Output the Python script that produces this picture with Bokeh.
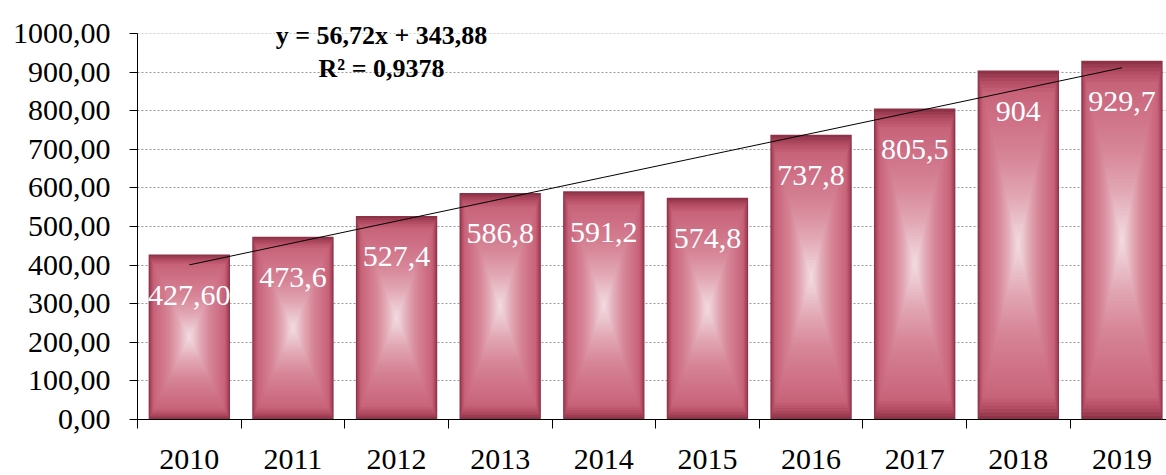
import numpy as np
from bokeh.plotting import figure
from bokeh.models import (ColumnDataSource, FixedTicker, CustomJSTickFormatter,
                          Range1d, Label, Span)
from bokeh.core.properties import value
from bokeh.embed import file_html
from bokeh.resources import INLINE

# ---- data ----
years = ["2010", "2011", "2012", "2013", "2014", "2015", "2016", "2017", "2018", "2019"]
values = [427.6, 473.6, 527.4, 586.8, 591.2, 574.8, 737.8, 805.5, 904.0, 929.7]
bar_labels = ["427,60", "473,6", "527,4", "586,8", "591,2", "574,8", "737,8", "805,5", "904", "929,7"]
y_ticks = [0, 100, 200, 300, 400, 500, 600, 700, 800, 900, 1000]
eq_line1 = "y = 56,72x + 343,88"
eq_line2 = "R² = 0,9378"

idx = list(range(len(years)))

# linear trend (x = 1..n as in the spreadsheet)
xs = np.arange(1, len(values) + 1)
slope, intercept = np.polyfit(xs, values, 1)
trend = list(slope * xs + intercept)

FONT = "Liberation Serif"

p = figure(width=1166, height=475, output_backend="svg", toolbar_location=None,
           x_range=Range1d(-0.5, 9.43), y_range=Range1d(0, 1085.5),
           min_border_left=137, min_border_right=0, min_border_top=0,
           min_border_bottom=56)
p.outline_line_color = None
p.background_fill_color = "white"
p.border_fill_color = "white"

# ---- gradient bars via nested rectangles ----
stops_t = [0.0, 0.12, 0.30, 0.50, 0.70, 0.88, 0.95, 1.0]
stops_c = [(242, 222, 227), (236, 200, 208), (225, 165, 178), (215, 135, 153),
           (208, 115, 137), (200, 100, 122), (178, 75, 98), (142, 50, 72)]

def col(t):
    r = np.interp(t, stops_t, [c[0] for c in stops_c])
    g = np.interp(t, stops_t, [c[1] for c in stops_c])
    b = np.interp(t, stops_t, [c[2] for c in stops_c])
    return "#%02x%02x%02x" % (int(r), int(g), int(b))

bar_w = 0.785
N = 50
rx, ry, rw, rh, rc = [], [], [], [], []
for k in range(N):
    t = 1 - k / N
    c = col(t)
    for i, v in zip(idx, values):
        rx.append(i)
        ry.append(v / 2)
        rw.append(bar_w * t)
        rh.append(v * t)
        rc.append(c)
src = ColumnDataSource(dict(x=rx, y=ry, w=rw, h=rh, c=rc))
p.rect(x="x", y="y", width="w", height="h", fill_color="c", line_color=None, source=src)

# ---- trend line ----
p.line(idx, trend, line_color="black", line_width=1)

# ---- bar value labels ----
lsrc = ColumnDataSource(dict(x=idx, y=values, t=bar_labels))
p.text(x="x", y="y", text="t", source=lsrc, text_color="white",
       text_font=value(FONT), text_font_size="30px", text_align="center",
       text_baseline="alphabetic", y_offset=41)

# ---- trend equation ----
for txt, yy in [(eq_line1, 994), (eq_line2, 909)]:
    p.add_layout(Label(x=1.855, y=yy, text=txt, text_font=FONT, text_font_size="26px",
                       text_font_style="bold", text_align="center",
                       text_baseline="alphabetic", text_color="black"))

# ---- axes ----
p.yaxis.bounds = (0, 1000)
p.yaxis.ticker = FixedTicker(ticks=y_ticks)
p.yaxis.formatter = CustomJSTickFormatter(code="return tick.toFixed(2).replace('.', ',');")
p.yaxis.major_label_text_font = FONT
p.yaxis.major_label_text_font_size = "30px"
p.yaxis.major_label_text_color = "black"
p.yaxis.major_tick_out = 8
p.yaxis.major_tick_in = 0
p.yaxis.minor_tick_out = 0
p.yaxis.minor_tick_in = 0
p.yaxis.axis_line_color = "black"
p.yaxis.major_tick_line_color = "black"
p.yaxis.major_label_standoff = 19

p.xaxis.ticker = FixedTicker(ticks=idx, minor_ticks=[i - 0.5 for i in range(len(years) + 1)])
p.xaxis.major_label_overrides = {i: y for i, y in zip(idx, years)}
p.xaxis.major_label_text_font = FONT
p.xaxis.major_label_text_font_size = "30px"
p.xaxis.major_label_text_color = "black"
p.xaxis.major_tick_out = 0
p.xaxis.major_tick_in = 0
p.xaxis.minor_tick_out = 9
p.xaxis.minor_tick_in = 0
p.xaxis.minor_tick_line_color = "black"
p.xaxis.axis_line_color = "black"
p.xaxis.major_label_standoff = 21

p.xgrid.grid_line_color = None
p.ygrid.ticker = FixedTicker(ticks=y_ticks[1:-1])
p.ygrid.grid_line_color = "#9a9a9a"
p.ygrid.grid_line_dash = "2 2"
p.ygrid.grid_line_width = 1
p.add_layout(Span(location=y_ticks[-1], dimension="width", line_color="#d0d0d0",
                  line_dash="2 2", line_width=1, level="underlay"))

open("out.html", "w").write(file_html(p, INLINE))
